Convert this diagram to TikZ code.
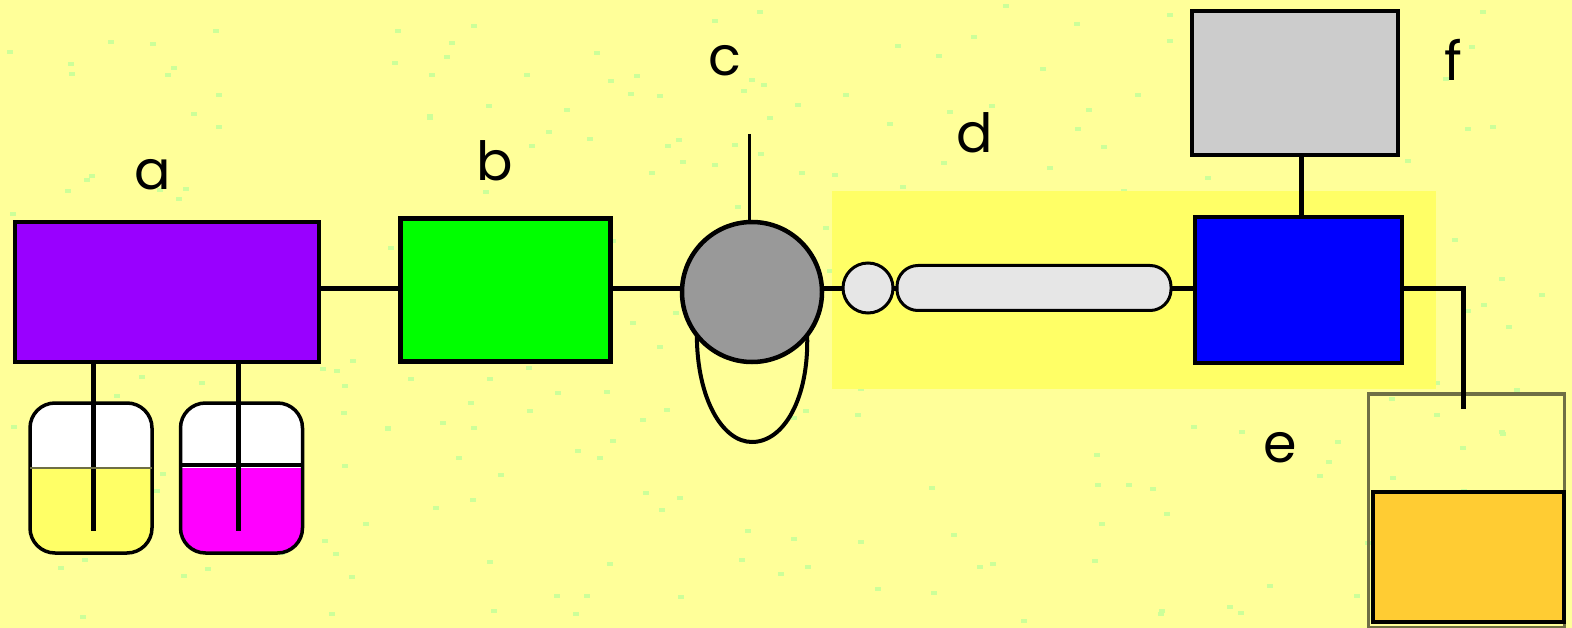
\documentclass[tikz,border=0pt]{standalone}
\usepackage{fontspec}
\setmainfont{Poppins}
\usetikzlibrary{positioning,calc}
\definecolor{paper}{HTML}{FFFF99}
\definecolor{speck}{HTML}{CCFF99}
\definecolor{band}{HTML}{FFFF66}
\definecolor{pumpbox}{HTML}{9900FF}
\definecolor{mixbox}{HTML}{00FF00}
\definecolor{valve}{HTML}{999999}
\definecolor{column}{HTML}{E6E6E6}
\definecolor{detect}{HTML}{0000FF}
\definecolor{recorder}{HTML}{CCCCCC}
\definecolor{waste}{HTML}{FFCC33}
\definecolor{solvA}{HTML}{FFFF66}
\definecolor{solvB}{HTML}{FF00FF}
\definecolor{rim}{HTML}{6F6F45}
\tikzset{unit/.style={draw=black,line width=4.5pt,inner sep=0pt,outer sep=0pt},pipe/.style={draw=black,line width=5pt},lab/.style={font=\fontsize{54}{56}\selectfont,inner sep=0pt},vessel/.style={draw=black,line width=3.5pt,fill=white,rounded corners=25pt,minimum width=122pt,minimum height=150pt,inner sep=0pt,outer sep=0pt,path picture={\fill[#1,sharp corners] (path picture bounding box.south west) rectangle ([yshift=85pt]path picture bounding box.south east);}}}

\begin{document}
\begin{tikzpicture}[x=1pt,y=-1pt]
\useasboundingbox[fill=paper] (0,0) rectangle (1572,628);
\pgfmathsetseed{11}
\foreach \i in {1,...,280}{\pgfmathsetmacro\px{random(4,1560)}\pgfmathsetmacro\py{random(4,620)}\fill[speck] (\px,\py) rectangle ++(6,4);}
\node[fill=band,minimum width=604pt,minimum height=198pt,inner sep=0pt] (dband) at (1134,290) {};
\coordinate (main) at (0,289);
\coordinate (lp) at (752,442);
\coordinate (ta) at (93,531);
\coordinate (tb) at (238,531);
\coordinate (tc) at (749,134);
\coordinate (te) at (1463,409);
\coordinate (fe) at (1301,0);
\coordinate (ma) at (0,468);
\coordinate (mb) at (0,465);
\node[draw=rim,line width=3.5pt,minimum width=196pt,minimum height=234pt,inner sep=0pt] (ev) at (1466.5,511) {};
\node[unit,fill=waste,minimum width=191pt,minimum height=130pt] (eb) at (1468.5,557) {};
\node[vessel=solvA] (va) at (91,478) {};
\node[vessel=solvB] (vb) at (241.5,478) {};
\node[unit,fill=pumpbox,minimum width=304pt,minimum height=140pt] (a) at (167,292) {};
\node[unit,fill=mixbox,minimum width=210pt,minimum height=143pt] (b) at (505.5,290) {};
\node[unit,circle,fill=valve,minimum size=140pt] (c) at (752,292) {};
\node[unit,circle,fill=column,line width=3pt,minimum size=50pt] (d1) at (868,288) {};
\node[unit,rounded corners=21pt,fill=column,line width=3pt,minimum width=274pt,minimum height=45pt] (d2) at (1034,288) {};
\node[unit,fill=detect,minimum width=207pt,minimum height=146pt] (det) at (1298.5,290) {};
\node[unit,fill=recorder,minimum width=206pt,minimum height=144pt] (f) at (1295,83) {};
\node[lab] (la) at (153,175) {a};
\node[lab] (lb) at (495,161) {b};
\node[lab] (lc) at (725,61) {c};
\node[lab] (ld) at (975,133) {d};
\node[lab] (le) at (1280,448) {e};
\node[lab] (lf) at (1453,60) {f};
\draw[pipe] (a.east |- main) -- (b.west |- main);
\draw[pipe] (b.east |- main) -- (c.west |- main);
\draw[pipe] (c.east |- main) -- (d1.west |- main);
\draw[pipe] (d1.east |- main) -- (d2.west |- main);
\draw[pipe] (d2.east |- main) -- (det.west |- main);
\draw[pipe] (det.east |- main) -| (te);
\draw[pipe] (fe |- f.south) -- (fe |- det.north);
\draw[pipe,line width=3pt] (tc) -- (tc |- c.north);
\draw[pipe] (ta |- a.south) -- (ta);
\draw[pipe] (tb |- a.south) -- (tb);
\draw[rim,line width=2.5pt] (va.west |- ma) -- (va.east |- ma);
\draw[black,line width=4pt] (vb.west |- mb) -- (vb.east |- mb);
\draw[pipe,line width=4pt] (c.218) .. controls (697,398) and (722,442) .. (lp) .. controls (784,442) and (809,398) .. (c.322);
\end{tikzpicture}
\end{document}
